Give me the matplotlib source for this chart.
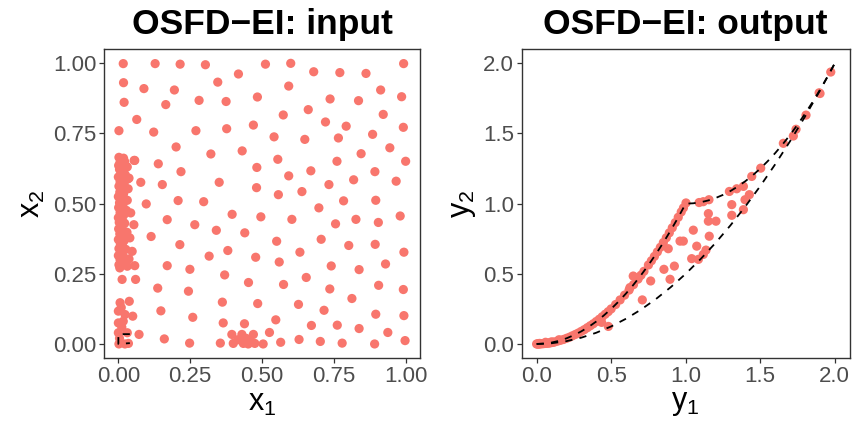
import matplotlib
matplotlib.use("Agg")
import matplotlib.pyplot as plt

plt.rcParams['font.family'] = ['Liberation Sans', 'DejaVu Sans']
plt.rcParams['mathtext.fontset'] = 'custom'
plt.rcParams['mathtext.rm'] = 'Liberation Sans'
plt.rcParams['mathtext.it'] = 'Liberation Sans'

# ---------------- input space points (x1, x2) ----------------
in_x1 = [
    0.017, 0.128, 0.215, 0.303, 0.512, 0.018, 0.089, 0.195, 0.346, 0.418,
    0.020, 0.165, 0.281, 0.375, 0.484, 0.064, 0.002, 0.123, 0.270, 0.377,
    0.470, 0.201, 0.322, 0.431, 0.055, 0.139, 0.218, 0.482, 0.078, 0.153,
    0.351, 0.481, 0.097, 0.208, 0.297,
    0.600, 0.680, 0.771, 0.862, 0.993, 0.593, 0.913, 0.737, 0.836, 0.986,
    0.574, 0.661, 0.721, 0.793, 0.922, 0.992, 0.542, 0.649, 0.766, 0.885,
    0.945, 0.555, 0.761, 0.845, 1.000, 0.593, 0.670, 0.819, 0.893, 0.967,
    0.733, 0.557, 0.639, 0.784, 0.896,
    0.698, 0.496, 0.604, 0.756, 0.827, 0.905, 0.981, 0.551, 0.706, 0.802,
    0.894, 0.994, 0.632, 0.560, 0.741, 0.838, 0.930, 0.654, 0.575, 0.736,
    0.906, 0.992, 0.813, 0.485, 0.627, 0.716, 0.896, 0.994, 0.548, 0.672,
    0.762, 0.838, 0.938, 0.526, 0.504, 0.565, 0.629, 0.703, 0.779, 0.892,
    0.998,
    0.396, 0.170, 0.266, 0.341, 0.440, 0.114, 0.214, 0.381, 0.316, 0.478,
    0.170, 0.249, 0.370, 0.453, 0.137, 0.244, 0.362, 0.148, 0.259, 0.365,
    0.439, 0.160, 0.248, 0.355, 0.072,
    0.395, 0.430, 0.470, 0.400, 0.435, 0.452, 0.475, 0.415, 0.445, 0.460,
    # dense strip near x1 = 0
    0.002, 0.010, 0.018, 0.006, 0.022, 0.001, 0.013, 0.027, 0.004, 0.018,
    0.009, 0.024, 0.000, 0.014, 0.033, 0.006, 0.020, 0.002, 0.012, 0.027,
    0.005, 0.018, 0.000, 0.010, 0.024, 0.004, 0.016, 0.001, 0.011, 0.028,
    0.006, 0.019, 0.000, 0.013, 0.003, 0.022, 0.009, 0.001, 0.016, 0.030,
    0.005, 0.012, 0.000, 0.020, 0.007, 0.015, 0.002, 0.026, 0.010, 0.000,
    0.018, 0.006, 0.013, 0.002, 0.022,
    0.031, 0.037, 0.034, 0.031, 0.043, 0.054, 0.040, 0.048, 0.037, 0.057,
    0.005, 0.031, 0.057,
    0.013, 0.060, 0.006, 0.038, 0.000, 0.023, 0.050, 0.000, 0.017, 0.000,
    0.031, 0.002, 0.023, 0.035, 0.010, 0.012, 0.004,
]
in_x2 = [
    0.999, 0.999, 0.997, 0.995, 0.997, 0.931, 0.910, 0.905, 0.933, 0.962,
    0.861, 0.853, 0.868, 0.864, 0.880, 0.800, 0.760, 0.755, 0.760, 0.767,
    0.780, 0.702, 0.677, 0.688, 0.654, 0.642, 0.614, 0.629, 0.576, 0.568,
    0.576, 0.557, 0.499, 0.511, 0.507,
    1.000, 0.970, 0.967, 0.964, 0.999, 0.919, 0.905, 0.873, 0.867, 0.881,
    0.816, 0.835, 0.791, 0.776, 0.818, 0.772, 0.738, 0.729, 0.734, 0.747,
    0.699, 0.658, 0.651, 0.678, 0.651, 0.599, 0.617, 0.585, 0.614, 0.580,
    0.568, 0.532, 0.543, 0.510, 0.512,
    0.485, 0.453, 0.444, 0.428, 0.444, 0.433, 0.456, 0.366, 0.373, 0.351,
    0.355, 0.327, 0.327, 0.292, 0.278, 0.265, 0.285, 0.237, 0.212, 0.196,
    0.209, 0.194, 0.162, 0.144, 0.141, 0.120, 0.106, 0.101, 0.086, 0.066,
    0.067, 0.055, 0.041, 0.041, 0.000, 0.006, 0.016, 0.009, 0.003, 0.000,
    0.012,
    0.462, 0.443, 0.425, 0.405, 0.396, 0.383, 0.354, 0.333, 0.313, 0.309,
    0.279, 0.266, 0.246, 0.219, 0.199, 0.188, 0.149, 0.118, 0.095, 0.075,
    0.072, 0.018, 0.003, 0.003, 0.034,
    0.034, 0.034, 0.034, 0.002, 0.002, 0.000, 0.002, 0.015, 0.020, 0.010,
    # dense strip near x1 = 0
    0.665, 0.660, 0.662, 0.648, 0.650, 0.636, 0.640, 0.632, 0.622, 0.618,
    0.607, 0.603, 0.595, 0.590, 0.588, 0.578, 0.572, 0.562, 0.556, 0.552,
    0.541, 0.535, 0.525, 0.518, 0.514, 0.503, 0.497, 0.486, 0.480, 0.476,
    0.468, 0.460, 0.450, 0.445, 0.433, 0.430, 0.420, 0.410, 0.405, 0.398,
    0.392, 0.383, 0.372, 0.368, 0.357, 0.348, 0.340, 0.337, 0.326, 0.315,
    0.310, 0.300, 0.290, 0.282, 0.287,
    0.631, 0.591, 0.553, 0.512, 0.467, 0.425, 0.378, 0.330, 0.303, 0.654,
    0.271, 0.277, 0.279,
    0.230, 0.230, 0.147, 0.152, 0.117, 0.105, 0.099, 0.075, 0.081, 0.040,
    0.040, 0.000, 0.000, 0.002, 0.130, 0.060, 0.020,
]

# small dashed path near the origin of the input space
ps_x1 = [0.040, 0.000, 0.000, 0.040]
ps_x2 = [0.035, 0.035, 0.000, 0.003]

# ---------------- output space points (y1, y2) ----------------
out_y1 = [
    0.000, 0.005, 0.010, 0.015, 0.020, 0.030, 0.040, 0.050, 0.060, 0.070,
    0.080, 0.090, 0.100, 0.110, 0.120, 0.140, 0.160, 0.180, 0.200, 0.220,
    0.240, 0.260, 0.280, 0.300, 0.320, 0.340, 0.360, 0.380, 0.400, 0.420,
    0.440, 0.460, 0.480, 0.500, 0.530, 0.560, 0.590, 0.620, 0.650, 0.680,
    0.700, 0.720, 0.750, 0.770, 0.790, 0.810, 0.830, 0.850, 0.870, 0.890,
    0.910, 0.930, 0.950, 0.970, 0.985, 1.002,
    1.090, 1.118, 1.156, 1.293, 1.342, 1.387, 1.443, 1.503, 1.655, 1.722,
    1.740, 1.807, 1.895, 1.901, 1.973,
    1.427, 1.398, 1.309, 1.387, 1.309, 1.152, 1.203, 1.152, 1.051, 1.158,
    0.962, 0.984, 1.074, 1.136, 1.118, 1.040, 1.085, 0.883, 0.854, 0.924,
    0.895, 0.765, 0.709, 0.481, 0.436, 0.648, 0.682, 0.626, 0.020, 0.060,
    0.100, 0.150,
]
out_y2 = [
    0.000, 0.000, 0.000, 0.000, 0.000, 0.001, 0.002, 0.003, 0.004, 0.005,
    0.006, 0.008, 0.010, 0.012, 0.014, 0.020, 0.026, 0.032, 0.040, 0.048,
    0.058, 0.068, 0.078, 0.090, 0.102, 0.116, 0.130, 0.144, 0.160, 0.176,
    0.194, 0.212, 0.230, 0.250, 0.281, 0.314, 0.348, 0.384, 0.423, 0.462,
    0.490, 0.518, 0.563, 0.593, 0.624, 0.656, 0.689, 0.723, 0.757, 0.792,
    0.828, 0.865, 0.903, 0.941, 0.970, 1.005,
    1.008, 1.014, 1.028, 1.087, 1.106, 1.123, 1.194, 1.253, 1.430, 1.482,
    1.530, 1.631, 1.790, 1.785, 1.938,
    1.064, 1.028, 0.993, 0.957, 0.917, 0.929, 0.875, 0.875, 0.811, 0.768,
    0.733, 0.733, 0.697, 0.669, 0.638, 0.608, 0.603, 0.679, 0.532, 0.555,
    0.461, 0.449, 0.314, 0.125, 0.154, 0.484, 0.473, 0.402, 0.004, 0.012,
    0.015, 0.030,
]

# true Pareto front boundaries
upper_y1 = [0.00, 0.05, 0.10, 0.15, 0.20, 0.25, 0.30, 0.35, 0.40, 0.45,
            0.50, 0.55, 0.60, 0.65, 0.70, 0.75, 0.80, 0.85, 0.90, 0.95,
            1.00, 1.05, 1.10, 1.15, 1.20, 1.25, 1.30, 1.35, 1.40, 1.45,
            1.50, 1.55, 1.60, 1.65, 1.70, 1.75, 1.80, 1.85, 1.90, 1.95, 2.00]
upper_y2 = [0.0000, 0.0025, 0.0100, 0.0225, 0.0400, 0.0625, 0.0900, 0.1225,
            0.1600, 0.2025, 0.2500, 0.3025, 0.3600, 0.4225, 0.4900, 0.5625,
            0.6400, 0.7225, 0.8100, 0.9025, 1.0000, 1.0025, 1.0100, 1.0225,
            1.0400, 1.0625, 1.0900, 1.1225, 1.1600, 1.2025, 1.2500, 1.3025,
            1.3600, 1.4225, 1.4900, 1.5625, 1.6400, 1.7225, 1.8100, 1.9025,
            2.0000]
lower_y1 = [0.0, 0.1, 0.2, 0.3, 0.4, 0.5, 0.6, 0.7, 0.8, 0.9, 1.0,
            1.1, 1.2, 1.3, 1.4, 1.5, 1.6, 1.7, 1.8, 1.9, 2.0]
lower_y2 = [0.000, 0.005, 0.020, 0.045, 0.080, 0.125, 0.180, 0.245, 0.320,
            0.405, 0.500, 0.605, 0.720, 0.845, 0.980, 1.125, 1.280, 1.445,
            1.620, 1.805, 2.000]

in_ticks = [0.00, 0.25, 0.50, 0.75, 1.00]
in_ticklabels = ['0.00', '0.25', '0.50', '0.75', '1.00']
out_ticks = [0.0, 0.5, 1.0, 1.5, 2.0]
out_ticklabels = ['0.0', '0.5', '1.0', '1.5', '2.0']

PT_COLOR = '#F8766D'
W, H = 854, 426

fig = plt.figure(figsize=(W / 100, H / 100), dpi=100)
ax1 = fig.add_axes([104 / W, 1 - 358 / H, 316 / W, 308.7 / H])
ax2 = fig.add_axes([521.7 / W, 1 - 358 / H, 328 / W, 308.7 / H])


def style(ax, ticks, labels, lim):
    ax.set_xlim(*lim)
    ax.set_ylim(*lim)
    ax.set_xticks(ticks)
    ax.set_yticks(ticks)
    ax.set_xticklabels(labels)
    ax.set_yticklabels(labels)
    for s in ax.spines.values():
        s.set_color('#333333')
        s.set_linewidth(1.0)
    ax.tick_params(axis='both', which='major', length=3.5, width=0.9,
                   color='#333333', labelcolor='#4D4D4D', labelsize=16, pad=2)


ax1.scatter(in_x1, in_x2, s=44, c=PT_COLOR, edgecolors='none', zorder=2)
ax1.plot(ps_x1, ps_x2, color='black', lw=1.3, dashes=(4, 4), zorder=3)
style(ax1, in_ticks, in_ticklabels, (-0.05, 1.05))

ax2.scatter(out_y1, out_y2, s=44, c=PT_COLOR, edgecolors='none', zorder=2)
ax2.plot(upper_y1, upper_y2, color='black', lw=1.3, dashes=(4, 4), zorder=3)
ax2.plot(lower_y1, lower_y2, color='black', lw=1.3, dashes=(4, 4), zorder=3)
style(ax2, out_ticks, out_ticklabels, (-0.1, 2.1))

for ax, t, xl, yl in [(ax1, 'OSFD\u2212EI: input', r'$\mathrm{x}_1$', r'$\mathrm{x}_2$'),
                      (ax2, 'OSFD\u2212EI: output', r'$\mathrm{y}_1$', r'$\mathrm{y}_2$')]:
    ax.set_title(t, fontsize=25.5, fontweight='bold', pad=11)
    ax.set_xlabel(xl, fontsize=22, labelpad=1)
    ax.set_ylabel(yl, fontsize=22, labelpad=4)

fig.savefig('out.png', dpi=100)
